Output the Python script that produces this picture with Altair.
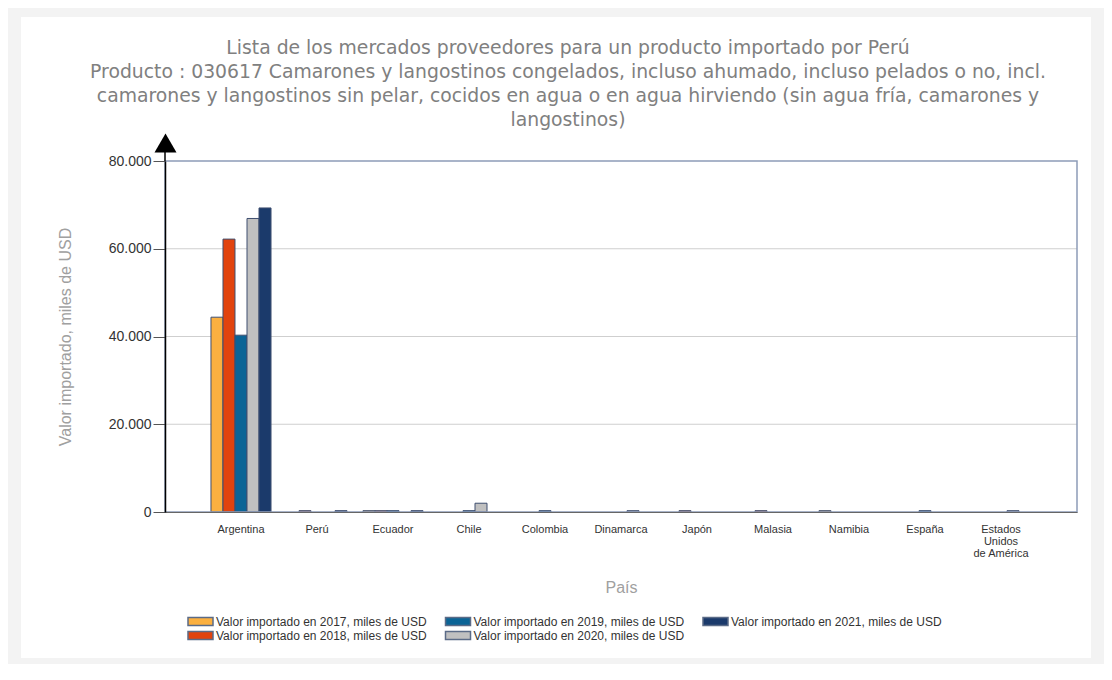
import altair as alt
import pandas as pd

countries = ["Argentina", "Perú", "Ecuador", "Chile", "Colombia", "Dinamarca",
             "Japón", "Malasia", "Namibia", "España", "Estados Unidos de América"]
series = ["Valor importado en 2017, miles de USD",
          "Valor importado en 2018, miles de USD",
          "Valor importado en 2019, miles de USD",
          "Valor importado en 2020, miles de USD",
          "Valor importado en 2021, miles de USD"]
v2017 = [44400, 0, 300, 0, 0, 0, 0, 0, 300, 0, 0]
v2018 = [62200, 300, 300, 0, 0, 0, 300, 300, 0, 0, 0]
v2019 = [40300, 0, 300, 300, 300, 0, 0, 0, 0, 300, 0]
v2020 = [66900, 0, 0, 2000, 0, 300, 0, 0, 0, 0, 300]
v2021 = [69300, 300, 300, 0, 0, 0, 0, 0, 0, 0, 0]
colors = ["#FBB040", "#E1430E", "#0B6496", "#C0C0C0", "#1B3A6B"]
y_ticks = [0, 20000, 40000, 60000, 80000]
grid_values = [20000, 40000, 60000]
title_lines = [
    "Lista de los mercados proveedores para un producto importado por Perú",
    "Producto : 030617 Camarones y langostinos congelados, incluso ahumado, incluso pelados o no, incl.",
    "camarones y langostinos sin pelar, cocidos en agua o en agua hirviendo (sin agua fría, camarones y",
    "langostinos)",
]

rows = []
for s, vals in zip(series, [v2017, v2018, v2019, v2020, v2021]):
    for c, v in zip(countries, vals):
        if v > 0:
            rows.append({"pais": c, "serie": s, "valor": v})
df = pd.DataFrame(rows)

W, H = 912, 351
dummy = pd.DataFrame({"a": [0]})

y_axis = alt.Axis(title="Valor importado, miles de USD", values=y_ticks,
                  labelExpr="replace(format(datum.value, ','), ',', '.')",
                  labelFont="Liberation Sans", labelFontSize=14, labelColor="#333333",
                  tickSize=12, tickColor="#555555", tickWidth=1, labelPadding=2,
                  domainColor="black", domainWidth=1.5, grid=False,
                  titleFont="Liberation Sans", titleFontSize=16, titleFontWeight="normal",
                  titleColor="#a0a0a0", titleX=-100, titleY=175.5, titleAngle=-90,
                  titleAlign="center", titleBaseline="middle", zindex=1)
y_scale = alt.Scale(domain=[0, 80000], nice=False)

card = alt.Chart(dummy).mark_rect(color="white").encode(
    x=alt.value(-144), x2=alt.value(926), y=alt.value(-144), y2=alt.value(497))

grid = alt.Chart(pd.DataFrame({"valor": grid_values})).mark_rule(
    color="#cfcfcf", strokeWidth=1).encode(y=alt.Y("valor:Q", scale=y_scale, axis=y_axis))

bars = alt.Chart(df).mark_bar(stroke="#3f4f70", strokeWidth=1).encode(
    x=alt.X("pais:N", sort=countries,
            scale=alt.Scale(domain=countries, paddingInner=0.21, paddingOuter=0.605),
            axis=alt.Axis(title="País", labelAngle=0, ticks=False, tickSize=0,
                          labelBaseline="middle", labelPadding=17, labelLineHeight=12,
                          labelFont="Liberation Sans", labelFontSize=11, labelColor="#333333",
                          labelExpr="datum.label == 'Estados Unidos de América' ? ['Estados', 'Unidos', 'de América'] : datum.label",
                          domainColor="#666666", domainWidth=1.2,
                          titleFont="Liberation Sans", titleFontSize=16, titleFontWeight="normal",
                          titleColor="#a0a0a0", titleX=456, titleY=75, titleAlign="center",
                          titleBaseline="middle", zindex=1, grid=False)),
    xOffset=alt.XOffset("serie:N", sort=series, scale=alt.Scale(domain=series)),
    y=alt.Y("valor:Q", scale=y_scale, axis=y_axis),
    color=alt.Color("serie:N", scale=alt.Scale(domain=series, range=colors),
                    legend=alt.Legend(orient="none", legendX=28.5, legendY=453.5, columns=3,
                                      title=None, symbolType="M-2,-0.64L2,-0.64L2,0.64L-2,0.64Z",
                                      symbolSize=156.25, symbolStrokeColor="#5b6b87",
                                      symbolStrokeWidth=1.5, symbolOpacity=1,
                                      labelFont="Liberation Sans", labelFontSize=12,
                                      labelColor="#333333", labelLimit=0, labelOffset=8.5,
                                      columnPadding=14.5, rowPadding=0, padding=0, zindex=1)),
)

border = alt.Chart(dummy).mark_rect(fillOpacity=0, stroke="#8d9cb8", strokeWidth=1.5).encode(
    x=alt.value(0), x2=alt.value(W), y=alt.value(0), y2=alt.value(H))

arrow_line = alt.Chart(dummy).mark_rule(color="black", strokeWidth=1.5).encode(
    x=alt.value(0), y=alt.value(-9), y2=alt.value(0))
arrow_head = alt.Chart(dummy).mark_point(shape="triangle-up", filled=True, size=484,
                                         color="black", opacity=1).encode(
    x=alt.value(0.5), y=alt.value(-18))

chart = alt.layer(card, grid, bars, border, arrow_line, arrow_head).properties(
    width=W, height=H,
    background="#f3f3f3",
    padding={"left": 157, "top": 153, "right": 27, "bottom": 152},
    autosize=alt.AutoSizeParams(type="none"),
    title=alt.TitleParams(text=title_lines, anchor="middle", dx=-53, offset=-128,
                          baseline="alphabetic", font="DejaVu Sans", fontSize=18.8,
                          fontWeight="normal", color="#808080", lineHeight=24, zindex=1),
).configure_view(stroke=None)

chart.save("out.html", embed_options={"renderer": "svg", "actions": False})
